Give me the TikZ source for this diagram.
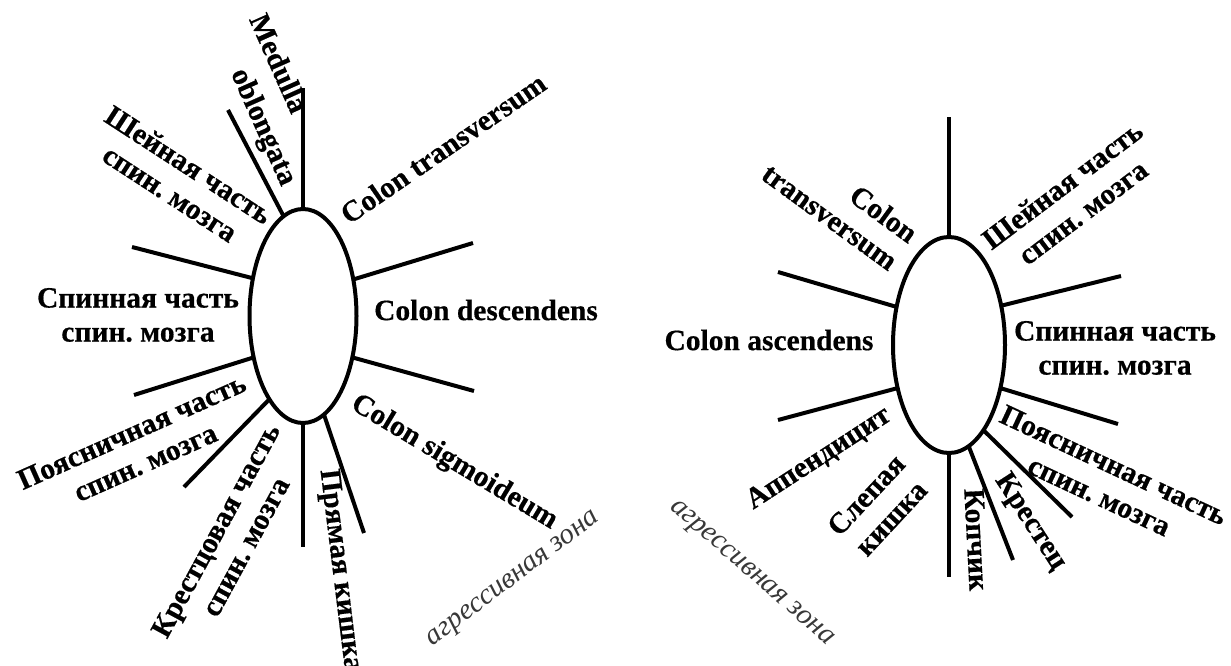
\documentclass[tikz,border=0pt]{standalone}
\usepackage{fontspec}
\setmainfont{Liberation Serif}[BoldFeatures={FakeBold=0.5}]
\usetikzlibrary{shapes.geometric}
\tikzset{
  organ/.style={draw, ellipse, line width=4pt, inner sep=0pt, outer sep=0pt},
  spoke/.style={line width=4pt},
  lbl/.style={font=\frenchspacing\bfseries\fontsize{29.5}{34}\selectfont, inner sep=0pt, text height=0.62em, text depth=0pt},
  lbltwo/.style={font=\frenchspacing\bfseries\fontsize{29.5}{34}\selectfont, inner sep=0pt, align=center},
  lblright/.style={font=\frenchspacing\bfseries\fontsize{29.5}{34}\selectfont, inner sep=0pt, align=right},
  zone/.style={font=\frenchspacing\itshape\fontsize{29}{34}\selectfont, text=black!78, inner sep=0pt, text height=0.5em, text depth=0pt}
}
\begin{document}
\begin{tikzpicture}[x=1pt,y=-1pt]
\fill[white] (0,0) rectangle (1231,666);
\useasboundingbox (0,0) rectangle (1231,666);

% ---------------- left diagram ----------------
\node[organ, minimum width=107pt, minimum height=214pt] (L) at (303,316) {};
\coordinate (L1) at (303,88);
\coordinate (L2) at (228,110);
\coordinate (L3) at (132,247);
\coordinate (L4) at (134,395);
\coordinate (L5) at (184,487);
\coordinate (L6) at (303,547);
\coordinate (L7) at (364,533);
\coordinate (L8) at (474,391);
\coordinate (L9) at (473,243);
\draw[spoke] (L.90) -- (L1);
\draw[spoke] (L.101) -- (L2);
\draw[spoke] (L.143) -- (L3);
\draw[spoke] (L.220) -- (L4);
\draw[spoke] (L.248) -- (L5);
\draw[spoke] (L.270) -- (L6);
\draw[spoke] (L.282) -- (L7);
\draw[spoke] (L.320) -- (L8);
\draw[spoke] (L.36) -- (L9);

\node[lbl, rotate=-66] (lmed1) at (273,66) {Medulla};
\node[lbl, rotate=-66] (lmed2) at (259,129) {oblongata};
\node[lbltwo, rotate=-33] (lsh) at (179.5,179) {Шейная часть\\спин. мозга};
\node[lbltwo] (lsp) at (138,315) {Спинная часть\\спин. мозга};
\node[lbltwo, rotate=24] (lpo) at (138.5,447) {Поясничная часть\\спин. мозга};
\node[lbltwo, rotate=61.5] (lkr) at (230.5,538.5) {Крестцовая часть\\спин. мозга};
\node[lbl, rotate=-83] (lpr) at (336,571) {Прямая кишка};
\node[lbl, rotate=-31] (lcs) at (452,466) {Colon sigmoideum};
\node[lbl] (lcd) at (486,317) {Colon descendens};
\node[lbl, rotate=34.5] (lct) at (447,154) {Colon transversum};
\node[zone, rotate=37] (lzone) at (515,581) {агрессивная зона};

% ---------------- right diagram ----------------
\node[organ, minimum width=112pt, minimum height=216pt] (R) at (949,345) {};
\coordinate (R1) at (949,117);
\coordinate (R2) at (778,272);
\coordinate (R3) at (1121,276);
\coordinate (R4) at (778,420);
\coordinate (R5) at (1118,424);
\coordinate (R6) at (949,577);
\coordinate (R7) at (1013,560);
\coordinate (R8) at (1072,517);
\draw[spoke] (R.90) -- (R1);
\draw[spoke] (R.144) -- (R2);
\draw[spoke] (R.37) -- (R3);
\draw[spoke] (R.220) -- (R4);
\draw[spoke] (R.320) -- (R5);
\draw[spoke] (R.270) -- (R6);
\draw[spoke] (R.281) -- (R7);
\draw[spoke] (R.292) -- (R8);

\node[lblright, rotate=-36] (rct) at (840,203) {Colon\\transversum};
\node[lbltwo, rotate=37] (rsh) at (1072.5,198.5) {Шейная часть\\спин. мозга};
\node[lbltwo] (rsp) at (1115,348) {Спинная часть\\спин. мозга};
\node[lbl] (rca) at (769,347) {Colon ascendens};
\node[lbltwo, rotate=-25] (rpo) at (1106.5,480.5) {Поясничная часть\\спин. мозга};
\node[lbl, rotate=33] (rap) at (821,462) {Аппендицит};
\node[lbltwo, rotate=47] (rsl) at (878.5,506.5) {Слепая\\кишка};
\node[lbl, rotate=-87] (rkop) at (970,540) {Копчик};
\node[lbl, rotate=-57] (rkre) at (1027,524) {Крестец};
\node[zone, rotate=-41] (rzone) at (750,575) {агрессивная зона};
\end{tikzpicture}
\end{document}
